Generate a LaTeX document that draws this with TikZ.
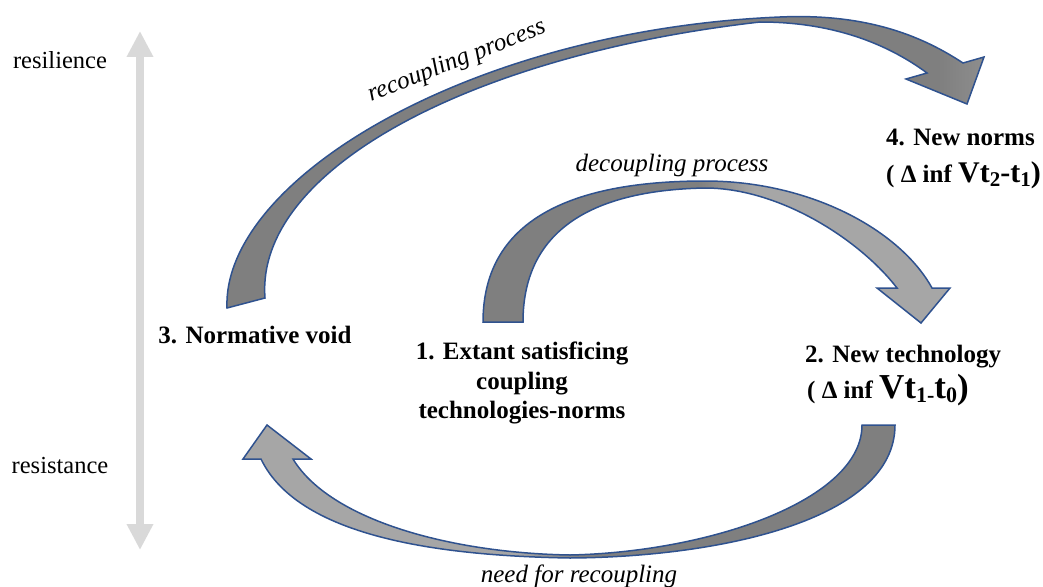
\documentclass[tikz,border=0pt]{standalone}
\usepackage{fontspec}
\setmainfont{Liberation Serif}
\usetikzlibrary{arrows.meta}
\definecolor{arrline}{HTML}{2F528F}
\definecolor{arrlt}{HTML}{A6A6A6}
\definecolor{arrdk}{HTML}{7F7F7F}
\definecolor{axisgray}{HTML}{D9D9D9}
\pgfdeclarehorizontalshading{shadeA}{100bp}{color(0bp)=(arrdk); color(72bp)=(arrdk); color(80bp)=(arrlt); color(100bp)=(arrlt)}
\pgfdeclarehorizontalshading{shadeB}{100bp}{color(0bp)=(arrdk); color(48bp)=(arrdk); color(54bp)=(arrlt); color(100bp)=(arrlt)}
\pgfdeclarehorizontalshading{shadeC}{100bp}{color(0bp)=(arrlt); color(46bp)=(arrlt); color(51bp)=(arrdk); color(100bp)=(arrdk)}
\newcommand\sbx[2]{\raisebox{-0.3ex}{\fontsize{#1}{#1}\selectfont #2}}
\begin{document}
\begin{tikzpicture}[x=1pt,y=-1pt,
  blockarrow/.style={draw=arrline, line width=1.5pt, line join=miter},
  lbl/.style={font=\fontsize{24.5}{29}\selectfont, inner sep=0pt, anchor=base},
  stage/.style={font=\fontsize{25}{29.5}\selectfont\bfseries, inner sep=0pt, anchor=base},
  stageleft/.style={stage, anchor=base west},
  proc/.style={font=\fontsize{25}{29}\selectfont\itshape, inner sep=0pt, anchor=base}]
\useasboundingbox (0,0) rectangle (1043,586);

% vertical axis
\coordinate (axtop) at (140,31);
\coordinate (axbot) at (140,550);
\draw[axisgray, line width=8pt, {Triangle[width=25pt,length=26pt]}-{Triangle[width=25pt,length=26pt]}] (axtop) -- (axbot);
\node[lbl] (resil) at (60,68) {resilience};
\node[lbl] (resist) at (60,473) {resistance};

% recoupling process arrow (top)
\draw[blockarrow, shading=shadeA]
  (227,308) .. controls (222,180) and (470,30) .. (780,17)
  .. controls (870,13) and (925,38) .. (963,63)
  -- (984,57) -- (967,104) -- (906,79) -- (927,73)
  .. controls (885,42) and (830,22) .. (760,22)
  .. controls (470,55) and (255,170) .. (265,298) -- cycle;

% decoupling process arrow (middle)
\draw[blockarrow, shading=shadeB]
  (483,322) .. controls (483,215) and (580,181) .. (705,181)
  .. controls (810,181) and (900,230) .. (932,288)
  -- (950,288) -- (921,323) -- (877,288) -- (897,288)
  .. controls (860,240) and (780,188) .. (705,188)
  .. controls (600,190) and (523,225) .. (523,322) -- cycle;

% need for recoupling arrow (bottom)
\draw[blockarrow, shading=shadeC]
  (895,425) .. controls (895,520) and (720,557) .. (570,558)
  .. controls (450,556) and (300,540) .. (261,459)
  -- (243,459) -- (267,425) -- (311,459) -- (293,459)
  .. controls (330,520) and (450,553) .. (570,555)
  .. controls (710,552) and (862,500) .. (862,425) -- cycle;

% process labels
\node[proc, rotate=21.5] (lrec) at (459,67) {recoupling process};
\node[proc] (ldec) at (672,171) {decoupling process};
\node[proc] (lneed) at (579,582) {need for recoupling};

% stages
\node[stage] (n3) at (255,343) {3. Normative void};
\node[stage] (n1a) at (522,359) {1. Extant satisficing};
\node[stage] (n1b) at (522,389) {coupling};
\node[stage] (n1c) at (522,418) {technologies-norms};
\node[stageleft] (n2a) at (805,362) {2. New technology};
\node[stageleft] (n2b) at (807,398) {( Δ inf {\fontsize{35}{35}\selectfont Vt\sbx{22}{1-}t\sbx{22}{0})}};
\node[stageleft] (n4a) at (886,145) {4. New norms};
\node[stageleft] (n4b) at (886,182) {( Δ inf {\fontsize{30}{30}\selectfont Vt\sbx{21}{2}-t\sbx{21}{1})}};
\end{tikzpicture}
\end{document}
